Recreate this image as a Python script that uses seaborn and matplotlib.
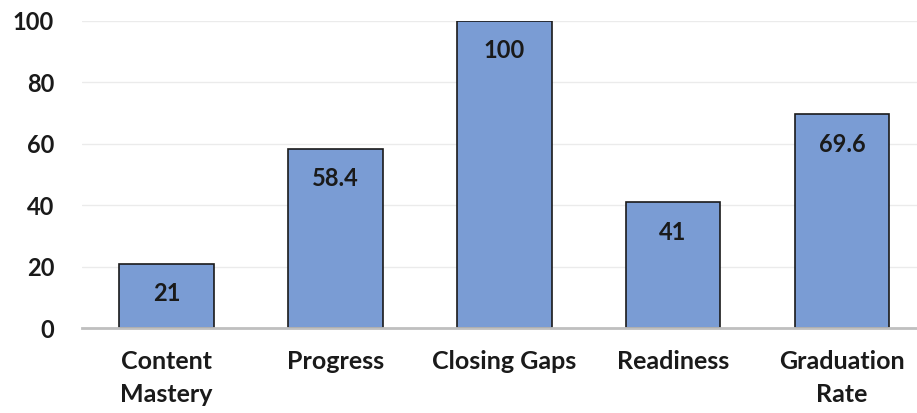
import matplotlib
matplotlib.use("Agg")
import matplotlib.pyplot as plt
import seaborn as sns
import pandas as pd

categories = ["Content\nMastery", "Progress", "Closing Gaps", "Readiness", "Graduation\nRate"]
values = [21, 58.4, 100, 41, 69.6]
value_labels = ["21", "58.4", "100", "41", "69.6"]
yticks = [0, 20, 40, 60, 80, 100]

sns.set_theme(style="white")
plt.rcParams['font.family'] = ['Lato', 'DejaVu Sans']

fig = plt.figure(figsize=(9.17, 4.13), dpi=100)
ax = fig.add_axes([82/917, 85/413, (917-82)/917, (328-21)/413])

df = pd.DataFrame({"cat": categories, "val": values})
sns.barplot(data=df, x="cat", y="val", color="#7A9CD4", saturation=1,
            width=0.56, edgecolor="#1A1A1A", linewidth=1.2, ax=ax)

ax.set_xlim(-0.5, 4.444)
ax.set_ylim(0, 100)
ax.set_yticks(yticks)
ax.set_yticklabels([str(t) for t in yticks], fontsize=17, fontweight="bold", color="#1A1A1A")
ax.set_xticks(range(len(categories)))
ax.set_xticklabels(categories, fontsize=18, fontweight="bold", color="#1A1A1A", linespacing=1.5)
ax.tick_params(axis="y", length=0, pad=20)
ax.tick_params(axis="x", length=0, pad=16)
ax.set_xlabel("")
ax.set_ylabel("")
ax.grid(axis="y", color="#EBEBEB", linewidth=1)
ax.set_axisbelow(True)
for s in ["top", "right", "left"]:
    ax.spines[s].set_visible(False)
ax.spines["bottom"].set_color("#BFBFBF")
ax.spines["bottom"].set_linewidth(2)
ax.spines["bottom"].set_zorder(5)

for i, (v, lab) in enumerate(zip(values, value_labels)):
    ax.annotate(lab, (i, v), xytext=(0, -30), textcoords="offset pixels",
                ha="center", va="center", fontsize=17, fontweight="bold", color="#1A1A1A")

fig.savefig("out.png", dpi=100)
